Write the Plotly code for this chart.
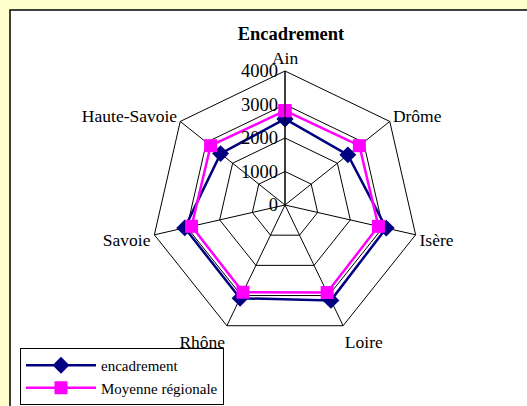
import plotly.graph_objects as go

# departments (clockwise from top)
categories = ["Ain", "Drôme", "Isère", "Loire", "Rhône", "Savoie", "Haute-Savoie"]
encadrement = [2570, 2400, 3100, 3160, 3090, 3070, 2460]
moyenne_regionale = [2815, 2840, 2860, 2900, 2890, 2860, 2840]
radial_ticks = [0, 1000, 2000, 3000, 4000]

W, H = 527, 406
serif = "Liberation Serif, Times New Roman, serif"
fs = 18.5

fig = go.Figure()

fig.add_trace(go.Scatterpolar(
    r=encadrement + encadrement[:1], theta=categories + categories[:1],
    name="encadrement", mode="lines+markers",
    line=dict(color="#000080", width=2.5),
    marker=dict(symbol="diamond", size=13, color="#000080"),
))
fig.add_trace(go.Scatterpolar(
    r=moyenne_regionale + moyenne_regionale[:1], theta=categories + categories[:1],
    name="Moyenne régionale", mode="lines+markers",
    line=dict(color="#FF00FF", width=2.5),
    marker=dict(symbol="square", size=13, color="#FF00FF"),
))

# polar area centre / radius in px (a bit tighter so Rhône clears the legend)
cx, cy, rad = 285, 205, 134
fig.update_layout(
    width=W, height=H,
    margin=dict(l=0, r=0, t=0, b=0),
    paper_bgcolor="#FFFFCC",
    font=dict(family=serif, size=fs, color="black"),
    title=dict(text="<b>Encadrement</b>", x=291 / W, xanchor="center",
               y=1 - 34 / H, yanchor="middle", font=dict(size=fs, family=serif)),
    shapes=[dict(type="rect", xref="paper", yref="paper",
                 x0=10 / W, x1=1.02, y0=-0.02, y1=1 - 10 / H,
                 fillcolor="white", line=dict(color="black", width=1.5), layer="below")],
    polar=dict(
        domain=dict(x=[(cx - rad) / W, (cx + rad) / W],
                    y=[1 - (cy + rad) / H, 1 - (cy - rad) / H]),
        bgcolor="white",
        gridshape="linear",
        angularaxis=dict(rotation=90, direction="clockwise",
                         linecolor="black", linewidth=1, gridcolor="black", gridwidth=1,
                         showticklabels=True, ticks="", tickfont=dict(size=17.5)),
        radialaxis=dict(range=[0, 4000], tickvals=radial_ticks, angle=90,
                        side="counterclockwise", tickangle=90,
                        linecolor="black", linewidth=1, gridcolor="black", gridwidth=1,
                        showline=True, ticks="", tickfont=dict(size=fs)),
    ),
    legend=dict(x=20 / W, xanchor="left", y=1 / H, yanchor="bottom",
                bgcolor="rgba(255,255,255,0)", bordercolor="black", borderwidth=1,
                font=dict(size=15, family=serif), tracegroupgap=0, itemwidth=70),
)

fig.write_html("out.html", config={"displayModeBar": False},
               post_script="document.body.style.margin='0';"
                           "document.body.style.background='#FFFFCC';")
